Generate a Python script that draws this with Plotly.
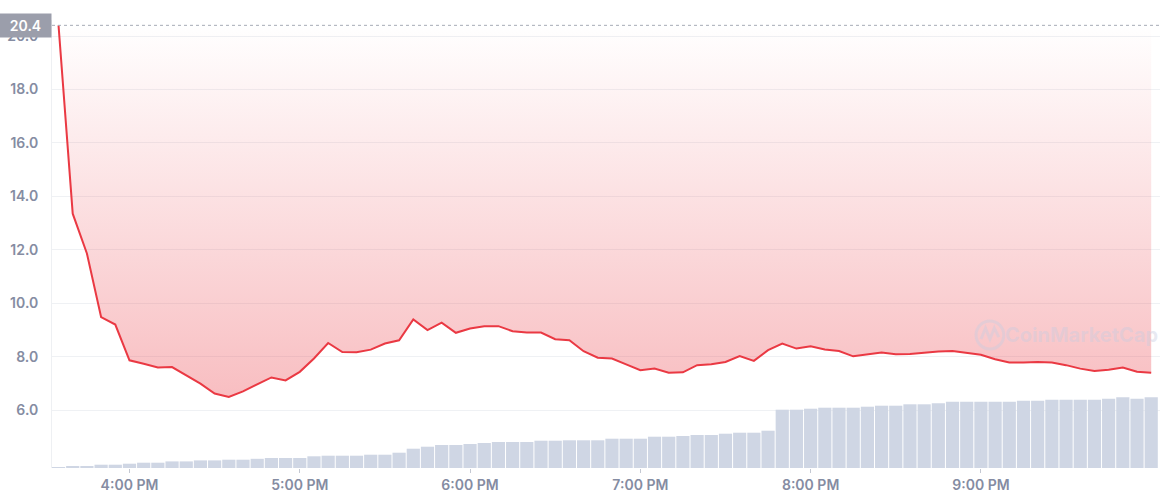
import pandas as pd
import plotly.graph_objects as go

# ---- data (5-minute intervals, 3:35 PM -> 10:00 PM) ----
times = pd.date_range("2024-01-01 15:35", periods=78, freq="5min")

price = [20.4, 13.35, 11.86, 9.48, 9.20, 7.86, 7.73, 7.59, 7.61, 7.30,
         6.99, 6.62, 6.49, 6.70, 6.95, 7.22, 7.11, 7.43, 7.93, 8.51,
         8.17, 8.16, 8.26, 8.49, 8.61, 9.39, 8.99, 9.27, 8.89, 9.05,
         9.14, 9.14, 8.95, 8.90, 8.90, 8.65, 8.61, 8.20, 7.96, 7.93,
         7.71, 7.49, 7.55, 7.40, 7.41, 7.68, 7.71, 7.80, 8.02, 7.84,
         8.24, 8.49, 8.30, 8.39, 8.27, 8.21, 8.01, 8.09, 8.15, 8.09,
         8.10, 8.14, 8.19, 8.21, 8.15, 8.07, 7.90, 7.78, 7.78, 7.80,
         7.78, 7.68, 7.55, 7.46, 7.51, 7.59, 7.43, 7.40]

volume = [1.0, 2.0, 2.0, 3.3, 3.3, 4.3, 5.3, 5.3, 6.6, 6.6,
          7.6, 7.6, 8.3, 8.3, 9.2, 10.0, 10.0, 10.0, 11.7, 12.3,
          12.3, 12.3, 13.3, 13.3, 15.3, 19.3, 21.3, 23.0, 23.0, 24.0,
          25.0, 26.0, 26.0, 26.0, 27.3, 27.3, 27.7, 27.7, 27.7, 29.3,
          29.3, 29.3, 31.3, 31.3, 32.0, 33.0, 33.0, 34.3, 35.3, 35.3,
          37.3, 58.3, 58.3, 59.3, 60.3, 60.3, 60.3, 61.3, 62.3, 62.3,
          63.7, 63.7, 64.7, 66.3, 66.3, 66.3, 66.3, 66.3, 67.3, 67.3,
          68.3, 68.3, 68.3, 68.3, 69.3, 70.7, 69.3, 70.7]

open_price = 20.4
y_ticks = [6, 8, 10, 12, 14, 16, 18, 20]
x_tick_hours = ["16:00", "17:00", "18:00", "19:00", "20:00", "21:00"]

RED = "#ea3943"
LABEL = "#858ca2"
FONT = "Inter"
WM = "rgba(200,204,224,0.42)"

fig = go.Figure()

# volume bars (secondary axis)
fig.add_trace(go.Bar(
    x=times, y=volume, yaxis="y2",
    marker=dict(color="#cfd6e4", line=dict(width=0)),
    hoverinfo="skip", showlegend=False,
))

# baseline at the opening price (fill boundary)
fig.add_trace(go.Scatter(
    x=times, y=[open_price] * len(times), mode="lines",
    line=dict(width=0, color="rgba(0,0,0,0)"),
    hoverinfo="skip", showlegend=False,
))

# price line with gradient fill up to the baseline
fig.add_trace(go.Scatter(
    x=times, y=price, mode="lines",
    line=dict(color=RED, width=2),
    fill="tonexty",
    fillgradient=dict(
        type="vertical",
        start=6.0, stop=20.4,
        colorscale=[[0, "rgba(234,57,67,0.34)"], [1, "rgba(234,57,67,0.0)"]],
    ),
    showlegend=False,
))

x_start = pd.Timestamp("2024-01-01 15:32:42")
x_end = pd.Timestamp("2024-01-01 22:03:06")

fig.update_layout(
    width=1160, height=500,
    margin=dict(l=52, r=0, t=20, b=32, pad=0),
    paper_bgcolor="white", plot_bgcolor="white",
    bargap=0.07,
    font=dict(family=FONT, color=LABEL, size=14),
    xaxis=dict(
        type="date",
        range=[x_start, x_end],
        tickvals=[pd.Timestamp("2024-01-01 " + h) for h in x_tick_hours],
        tickformat="%-I:%M %p",
        ticks="outside", ticklen=4, tickcolor="#c4c8d2", tickwidth=1,
        showgrid=False, showline=False, zeroline=False,
        tickfont=dict(family=FONT, size=14, color=LABEL, weight=600),
    ),
    yaxis=dict(
        range=[3.83, 20.6],
        tickvals=y_ticks,
        tickformat=".1f",
        showgrid=True, gridcolor="#eff1f4", gridwidth=1,
        showline=True, linecolor="#eef0f3", linewidth=1,
        zeroline=False, ticks="", ticklabelstandoff=10,
        tickfont=dict(family=FONT, size=14, color=LABEL, weight=600),
    ),
    yaxis2=dict(
        overlaying="y", range=[0, 448], visible=False,
        showgrid=False, zeroline=False,
    ),
    shapes=[
        dict(type="line", xref="paper", yref="y", x0=0, x1=1,
             y0=open_price, y1=open_price,
             line=dict(color="#a7abb6", width=1, dash="dot")),
        dict(type="circle", xref="paper", yref="paper",
             x0=0.834, x1=0.859, y0=0.2656, y1=0.328,
             line=dict(color=WM, width=3)),
        dict(type="path", xref="paper", yref="paper",
             path="M 0.8385 0.288 L 0.8425 0.312 L 0.8465 0.288 L 0.8505 0.312 L 0.8545 0.292",
             line=dict(color=WM, width=3)),
    ],
    annotations=[
        dict(xref="paper", yref="y", x=0, y=open_price,
             xanchor="right", yanchor="middle", showarrow=False,
             text="20.4", bgcolor="#9b9eab", width=47, height=19,
             borderpad=2, align="center",
             font=dict(family=FONT, size=14, color="white", weight=600)),
        dict(xref="paper", yref="paper", x=0.9296, y=0.297,
             xanchor="center", yanchor="middle", showarrow=False,
             text="CoinMarketCap",
             font=dict(family=FONT, size=20, color=WM, weight=700)),
    ],
)

fig.write_html(
    "out.html",
    config={"displayModeBar": False},
    post_script="document.body.style.margin='0';document.body.style.overflow='hidden';",
)
